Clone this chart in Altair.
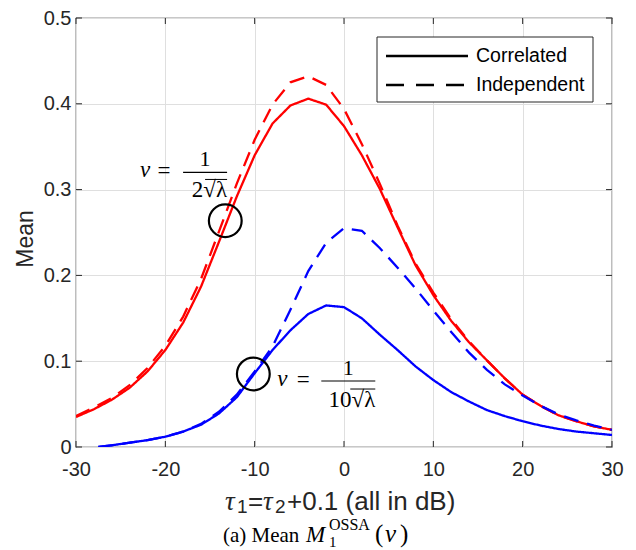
import altair as alt
import pandas as pd

# ---------------- data ----------------
x_red = [-30, -28, -26, -24, -22, -20, -18, -16, -14, -12, -10, -8, -6, -4, -2, 0,
         2, 4, 6, 8, 10, 12, 14, 16, 18, 20, 22, 24, 26, 28, 30]
red_corr = [0.035, 0.044, 0.055, 0.069, 0.088, 0.113, 0.145, 0.187, 0.239, 0.292, 0.340,
            0.377, 0.398, 0.406, 0.399, 0.374, 0.340, 0.301, 0.256, 0.212, 0.177, 0.147,
            0.122, 0.101, 0.080, 0.061, 0.048, 0.037, 0.030, 0.024, 0.020]
red_ind = [0.036, 0.046, 0.057, 0.072, 0.092, 0.118, 0.152, 0.196, 0.251, 0.307, 0.358,
           0.399, 0.425, 0.432, 0.422, 0.394, 0.353, 0.307, 0.258, 0.214, 0.180, 0.149,
           0.123, 0.101, 0.080, 0.061, 0.048, 0.037, 0.030, 0.024, 0.020]
x_blue = [-27.5, -26, -24, -22, -20, -18, -16, -14, -12, -10, -8, -6, -4, -2, 0,
          2, 4, 6, 8, 10, 12, 14, 16, 18, 20, 22, 24, 26, 28, 30]
blue_corr = [0.000, 0.002, 0.005, 0.008, 0.012, 0.018, 0.026, 0.039, 0.058, 0.086, 0.113,
             0.136, 0.155, 0.165, 0.163, 0.150, 0.131, 0.113, 0.094, 0.078, 0.064, 0.053,
             0.043, 0.036, 0.030, 0.025, 0.021, 0.018, 0.016, 0.014]
blue_ind = [0.000, 0.002, 0.005, 0.008, 0.012, 0.018, 0.027, 0.041, 0.061, 0.088, 0.117,
            0.160, 0.205, 0.238, 0.255, 0.252, 0.232, 0.209, 0.185, 0.159, 0.134, 0.110,
            0.090, 0.073, 0.060, 0.048, 0.038, 0.031, 0.025, 0.020]

x_ticks = [-30, -20, -10, 0, 10, 20, 30]
y_ticks = [0, 0.1, 0.2, 0.3, 0.4, 0.5]
legend_labels = ["Correlated", "Independent"]
groups = ["half", "tenth"]
group_colors = ["#ff0000", "#0000ff"]

# annotation anchors (centre of the fraction bar, data units) and circle centres
ann_x = [-15.55, 0.48]
ann_y = [0.320, 0.0769]
ann_den = ["2\u221a\u03bb", "10\u221a\u03bb"]
circ_x = [-13.29, -10.15]
circ_y = [0.2637, 0.0851]

# ---------------- build tables ----------------
rows = []
for xs, ys, g, k in [(x_red, red_corr, "half", "Correlated"),
                     (x_red, red_ind, "half", "Independent"),
                     (x_blue, blue_corr, "tenth", "Correlated"),
                     (x_blue, blue_ind, "tenth", "Independent")]:
    for xv, yv in zip(xs, ys):
        rows.append({"x": xv, "y": yv, "group": g, "kind": k, "key": g + k})
df = pd.DataFrame(rows)

W, H = 536, 429
INK = "#262626"
GRID = "#dfdfdf"

xscale = alt.Scale(domain=[-30, 30], nice=False, zero=False)
yscale = alt.Scale(domain=[0, 0.5], nice=False)

xaxis = alt.Axis(values=x_ticks, title="", grid=True, gridColor=GRID, gridWidth=1,
                 domain=False, ticks=False, labelFont="Liberation Sans", labelFontSize=20,
                 labelColor=INK, labelPadding=12, labelFlush=False,
                 labelExpr="'' + datum.value")
yaxis = alt.Axis(values=y_ticks, title="Mean", grid=True, gridColor=GRID, gridWidth=1,
                 domain=False, ticks=False, labelFont="Liberation Sans", labelFontSize=20,
                 labelColor=INK, labelPadding=5, labelFlush=False,
                 labelExpr="'' + datum.value",
                 titleFont="Liberation Sans", titleFontSize=23, titleFontWeight="normal",
                 titleColor=INK, titleX=-44, titleY=H / 2 + 6, titleAngle=270,
                 titleBaseline="alphabetic", titleAlign="center")

X = alt.X("x:Q", scale=xscale, axis=xaxis)
Y = alt.Y("y:Q", scale=yscale, axis=yaxis)

lines = alt.Chart(df).mark_line(strokeWidth=2.3, clip=True).encode(
    x=X, y=Y,
    color=alt.Color("group:N", scale=alt.Scale(domain=groups, range=group_colors), legend=None),
    strokeDash=alt.StrokeDash("kind:N", scale=alt.Scale(domain=legend_labels,
                              range=[[1, 0], [15, 9]]), legend=None),
    detail="key:N",
    order="x:Q",
)

# inward ticks on all four sides
dfx = pd.DataFrame({"x": x_ticks})
dfy = pd.DataFrame({"y": y_ticks})
tick_layers = [
    alt.Chart(dfx).mark_rule(color=INK, strokeWidth=1).encode(x=X, y=alt.value(H), y2=alt.value(H - 6)),
    alt.Chart(dfx).mark_rule(color=INK, strokeWidth=1).encode(x=X, y=alt.value(0), y2=alt.value(6)),
    alt.Chart(dfy).mark_rule(color=INK, strokeWidth=1).encode(y=Y, x=alt.value(0), x2=alt.value(6)),
    alt.Chart(dfy).mark_rule(color=INK, strokeWidth=1).encode(y=Y, x=alt.value(W), x2=alt.value(W - 6)),
]

# circles
dfc = pd.DataFrame({"x": circ_x, "y": circ_y})
circles = alt.Chart(dfc).mark_point(shape="circle", size=1075, filled=False, stroke="black",
                                    strokeWidth=2.2, opacity=1).encode(x=X, y=Y)

# fraction annotations
SERIF = "Liberation Serif"
ann_layers = []
ann_geom = [  # (v dx, = dx, bar half width, den dy, overline dx0, dx1, overline dy)
    (-60, -41, 22, 25, 0, 22, 7),
    (-66, -45, 27, 26, 2, 27, 8),
]
for i in range(2):
    d = pd.DataFrame({"x": [ann_x[i]], "y": [ann_y[i]], "den": [ann_den[i]],
                      "v": ["v"], "eq": ["="], "one": ["1"]})
    vdx, eqdx, hw, ddy, o0, o1, ody = ann_geom[i]
    base = alt.Chart(d)
    ann_layers += [
        base.mark_text(font=SERIF, fontSize=23, fontStyle="italic", baseline="alphabetic",
                       align="center", dx=vdx, dy=5, color="black").encode(x=X, y=Y, text="v:N"),
        base.mark_text(font=SERIF, fontSize=23, baseline="alphabetic",
                       align="center", dx=eqdx, dy=6, color="black").encode(x=X, y=Y, text="eq:N"),
        base.mark_text(font=SERIF, fontSize=22, baseline="alphabetic",
                       align="center", dx=0, dy=-6, color="black").encode(x=X, y=Y, text="one:N"),
        base.mark_rule(color="black", strokeWidth=1.2, xOffset=-hw, x2Offset=hw).encode(
            x=X, x2="x:Q", y=Y),
        base.mark_text(font=SERIF, fontSize=23, baseline="alphabetic",
                       align="right", dx=hw, dy=ddy, color="black").encode(x=X, y=Y, text="den:N"),
        base.mark_rule(color="black", strokeWidth=1.0, xOffset=o0, x2Offset=o1,
                       yOffset=ody).encode(x=X, x2="x:Q", y=Y),
    ]

# legend (drawn by hand in MATLAB style)
one = pd.DataFrame({"a": [0]})
leg_df = pd.DataFrame({"label": legend_labels})
legend_layers = [
    alt.Chart(one).mark_rect(fill="white", stroke=INK, strokeWidth=1).encode(
        x=alt.value(301), x2=alt.value(517), y=alt.value(19), y2=alt.value(84)),
    alt.Chart(one).mark_rule(color="black", strokeWidth=2.3).encode(
        x=alt.value(310), x2=alt.value(392), y=alt.value(38)),
    alt.Chart(one).mark_rule(color="black", strokeWidth=2.3, strokeDash=[18, 12]).encode(
        x=alt.value(310), x2=alt.value(392), y=alt.value(67)),
    alt.Chart(leg_df).transform_filter(alt.datum.label == legend_labels[0]).mark_text(
        font="Liberation Sans", fontSize=19.5, align="left", baseline="middle", color="black").encode(
        x=alt.value(400), y=alt.value(38), text="label:N"),
    alt.Chart(leg_df).transform_filter(alt.datum.label == legend_labels[1]).mark_text(
        font="Liberation Sans", fontSize=19.5, align="left", baseline="middle", color="black").encode(
        x=alt.value(400), y=alt.value(67), text="label:N"),
]


def label(txt, x, y, size, font="Liberation Sans", style="normal", color=INK):
    return alt.Chart(pd.DataFrame({"t": [txt]})).mark_text(
        align="left", baseline="alphabetic", font=font, fontSize=size, fontStyle=style,
        color=color).encode(x=alt.value(x), y=alt.value(y), text="t:N")


# x-axis title: tau_1 = tau_2 + 0.1 (all in dB)
xtitle_layers = [
    label("\u03c4", 149, 492, 27, SERIF, "italic"),
    label("1", 161, 495, 19),
    label("=", 172, 492, 26),
    label("\u03c4", 187, 492, 27, SERIF, "italic"),
    label("2", 199, 495, 19),
    label("+0.1 (all in dB)", 211, 492, 26),
]

# caption: (a) Mean M_1^OSSA(v)
caption_layers = [
    label("(a) Mean", 147, 524, 21, SERIF, color="black"),
    label("M", 230, 524, 23, SERIF, "italic", color="black"),
    label("1", 253, 529, 15, SERIF, color="black"),
    label("OSSA", 253, 512, 16, SERIF, color="black"),
    label("(", 299, 524, 25, SERIF, color="black"),
    label("v", 309, 524, 25, SERIF, "italic", color="black"),
    label(")", 324, 524, 25, SERIF, color="black"),
]

chart = alt.layer(
    lines, *tick_layers, circles, *ann_layers, *legend_layers, *xtitle_layers, *caption_layers
).properties(
    width=W, height=H,
    padding={"left": 76, "top": 18, "right": 24, "bottom": 103},
    autosize=alt.AutoSizeParams(type="none"),
    background="white",
).configure_view(stroke=INK, strokeWidth=1.2)

chart.save("out.html", embed_options={"renderer": "svg", "actions": False})
